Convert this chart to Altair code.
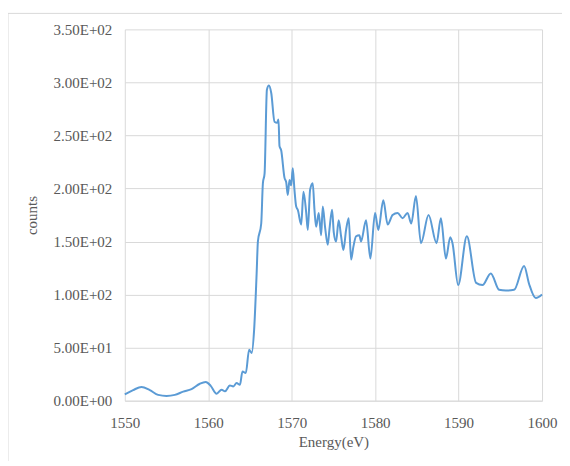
import altair as alt
import pandas as pd

energy = [1550.0, 1551.0, 1552.0, 1553.0, 1554.0, 1555.0, 1556.0, 1557.0, 1558.0, 1559.0,
          1559.7, 1560.3, 1561.0, 1561.6, 1562.0, 1562.6, 1563.0, 1563.4, 1563.8, 1564.1,
          1564.5, 1564.9, 1565.2, 1565.5, 1565.8, 1565.95, 1566.35, 1566.55, 1566.75, 1567.03,
          1567.27, 1567.55, 1567.94, 1568.26, 1568.42, 1568.54, 1568.74, 1569.14, 1569.34, 1569.53,
          1569.74, 1569.94, 1570.13, 1570.33, 1570.54, 1570.73, 1571.14, 1571.41, 1571.73, 1571.93,
          1572.21, 1572.52, 1572.73, 1572.93, 1573.24, 1573.53, 1573.72, 1574.01, 1574.32, 1574.52,
          1574.84, 1575.04, 1575.32, 1575.63, 1575.92, 1576.2, 1576.52, 1576.83, 1577.12, 1577.39,
          1577.72, 1578.11, 1578.31, 1578.91, 1579.43, 1579.99, 1580.38, 1580.98, 1581.5, 1582.09,
          1582.69, 1583.29, 1583.89, 1584.33, 1584.89, 1585.49, 1586.4, 1587.36, 1587.88, 1588.48,
          1589.0, 1589.27, 1589.95, 1590.99, 1592.1, 1592.86, 1593.86, 1594.86, 1595.66, 1596.65,
          1597.85, 1598.45, 1599.25, 1600.0]
counts = [6, 10, 13, 10, 5.5, 4.5, 5.5, 8.5, 11, 16,
          17.6, 14, 6.6, 10.4, 8.8, 14.4, 13.5, 16.6, 15, 27.6,
          26, 48, 45, 67, 120, 150, 167, 205, 214, 293,
          297, 290, 263, 262, 265, 240, 236, 210, 206, 194,
          208, 203, 219, 199, 183, 180, 166, 197, 178, 161,
          199, 205, 180, 164, 177, 156, 183, 163, 147, 161,
          180, 159, 150, 170, 155, 142, 161, 172, 133, 145,
          155, 156, 150, 170, 134, 177, 161, 189, 166, 175,
          177, 172, 177, 167, 193, 148.5, 175, 148.5, 172, 134,
          154, 148.5, 109, 155, 111, 109, 120, 104.5, 103.8, 104.5,
          127, 110, 96.7, 100]

df = pd.DataFrame({"Energy": energy, "counts": counts})

x_ticks = [1550, 1560, 1570, 1580, 1590, 1600]
y_ticks = [0, 50, 100, 150, 200, 250, 300, 350]

FONT = "Liberation Serif"
GRAY = "#595959"
GRID = "#d9d9d9"

ylabel = ("datum.value == 0 ? '0.00E+00' : "
          "format(datum.value / pow(10, floor(log(datum.value) / LN10)), '.2f') + 'E+' + "
          "pad(floor(log(datum.value) / LN10), 2, '0', 'left')")

line = alt.Chart(df).mark_line(interpolate="monotone", color="#5B9BD5", strokeWidth=2).encode(
    x=alt.X("Energy:Q", scale=alt.Scale(domain=[1550, 1600], nice=False, zero=False),
            axis=alt.Axis(values=x_ticks, format="d", title="Energy(eV)", grid=True, gridColor=GRID,
                          domainColor=GRID, ticks=False, labelPadding=15, labelFontSize=15,
                          labelFont=FONT, labelColor=GRAY, titleFont=FONT, titleFontSize=15,
                          titleColor=GRAY, titleFontWeight="normal", titlePadding=4,
                          labelFlush=False)),
    y=alt.Y("counts:Q", scale=alt.Scale(domain=[0, 350], nice=False),
            axis=alt.Axis(values=y_ticks, title="counts", grid=True, gridColor=GRID,
                          domain=False, ticks=False, labelPadding=13, labelFontSize=15,
                          labelFont=FONT, labelColor=GRAY, labelExpr=ylabel,
                          titleFont=FONT, titleFontSize=15, titleColor=GRAY,
                          titleFontWeight="normal", titlePadding=14, labelFlush=False)),
)

frame = alt.Chart(pd.DataFrame({"a": [0]})).mark_rect(
    fill=None, stroke=GRID, strokeWidth=1
).encode(
    x=alt.value(-117), x2=alt.value(600), y=alt.value(-16), y2=alt.value(600)
)

chart = alt.layer(frame, line).properties(
    width=418, height=372,
    autosize=alt.AutoSizeParams(type="none"),
    padding={"left": 117, "top": 21, "right": 20, "bottom": 60},
).configure_view(stroke=None)

chart.save("out.html", embed_options={"renderer": "svg", "actions": False})
